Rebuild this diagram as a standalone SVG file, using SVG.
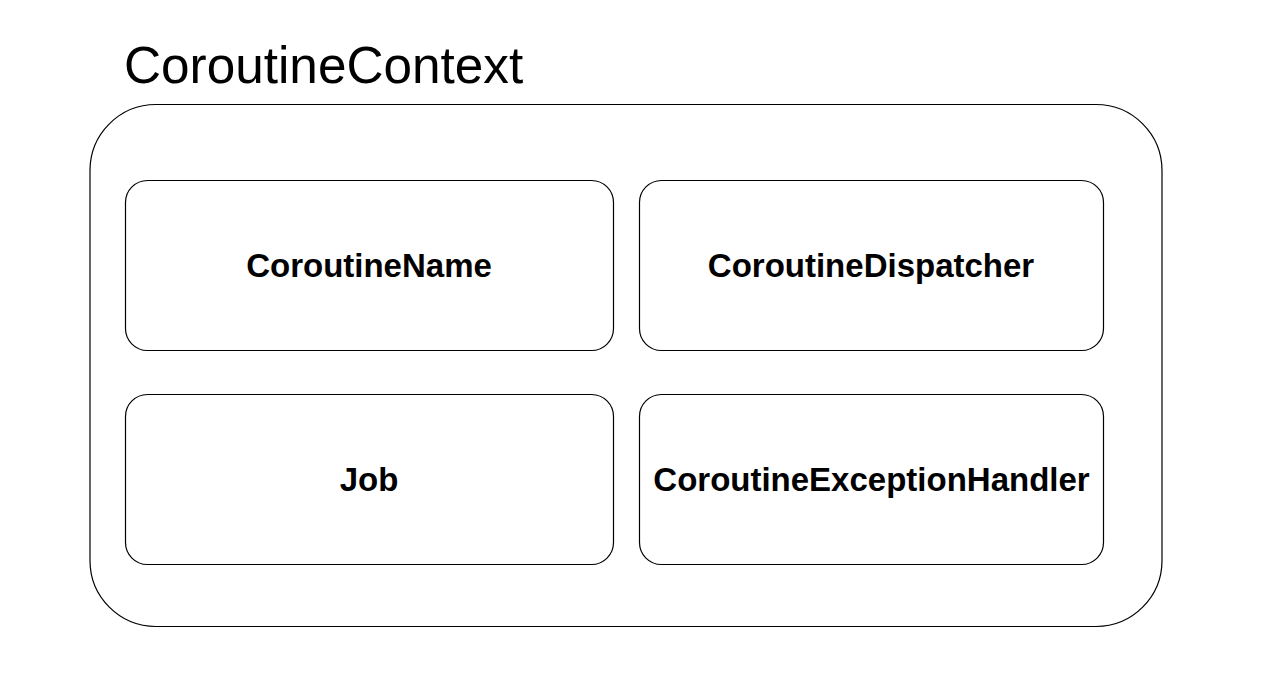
<svg xmlns="http://www.w3.org/2000/svg" width="1264" height="682" viewBox="0 0 1264 682">
<style>
.box{fill:#fff;stroke:#000;stroke-width:1.2}
.lbl{font-family:"Liberation Sans",Arial,sans-serif;font-weight:bold;font-size:33px;text-anchor:middle;fill:#000}
.title{font-family:"Liberation Sans",Arial,sans-serif;font-size:51.3px;fill:#000}
</style>
<rect width="1264" height="682" fill="#fff"/>
<g id="context">
<text class="title" x="124" y="83">CoroutineContext</text>
<rect class="box" x="90" y="104.5" width="1072" height="522" rx="66" ry="66"/>
</g>
<g id="connectors"></g>
<g id="name">
<rect class="box" x="125.5" y="180.5" width="488" height="170" rx="22" ry="22"/>
<text class="lbl" x="369" y="277">CoroutineName</text>
</g>
<g id="dispatcher">
<rect class="box" x="639.5" y="180.5" width="464" height="170" rx="22" ry="22"/>
<text class="lbl" x="871" y="277">CoroutineDispatcher</text>
</g>
<g id="job">
<rect class="box" x="125.5" y="394.5" width="488" height="170" rx="22" ry="22"/>
<text class="lbl" x="369" y="491">Job</text>
</g>
<g id="handler">
<rect class="box" x="639.5" y="394.5" width="464" height="170" rx="22" ry="22"/>
<text class="lbl" x="871.5" y="491">CoroutineExceptionHandler</text>
</g>
</svg>
